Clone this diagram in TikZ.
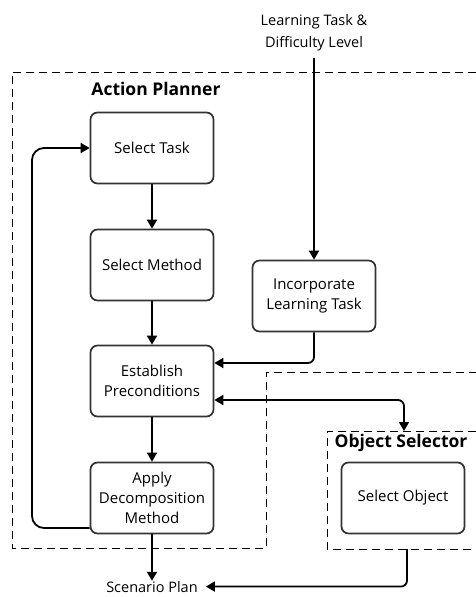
\documentclass[tikz,border=0pt]{standalone}
\usepackage{fontspec}
\setmainfont{Open Sans}
\usetikzlibrary{arrows.meta}
\begin{document}
\begin{tikzpicture}[x=1pt,y=-1pt,
  box/.style={draw=black!80,line width=1.7pt,rounded corners=7pt,minimum width=123pt,minimum height=71pt,align=center,font=\fontsize{15}{20}\selectfont,inner sep=0pt},
  conn/.style={line width=1.8pt,-{Triangle[length=9pt,width=10pt]}},
  dconn/.style={line width=1.8pt,{Triangle[length=9pt,width=10pt]}-{Triangle[length=9pt,width=10pt]}},
  frame/.style={line width=0.9pt,dash pattern=on 8pt off 5pt},
  lbl/.style={font=\fontsize{14.5}{22}\selectfont,align=center,inner sep=0pt},
  title/.style={font=\bfseries\fontsize{17.5}{20}\selectfont,inner sep=0pt}]
\useasboundingbox (0,0) rectangle (476,597);
\draw[frame] (476,72) -- (12,72) -- (12,548) -- (266,548) -- (266,372) -- (476,372);
\draw[frame] (476,431) -- (327,431) -- (327,549) -- (476,549);
\node[title,anchor=base] (ap) at (156,95) {Action Planner};
\node[title,anchor=base] (os) at (401,447) {Object Selector};
\node[lbl] (in) at (314,33) {Learning Task \&\\Difficulty Level};
\coordinate (inb) at (314,58);
\node[box] (st) at (152,148) {Select Task};
\node[box] (sm) at (152,265) {Select Method};
\node[box] (il) at (314,296) {Incorporate\\Learning Task};
\node[box] (ep) at (152,381) {Establish\\Preconditions};
\node[box] (ad) at (152,498) {Apply\\Decomposition\\Method};
\node[box] (so) at (403,498) {Select Object};
\node[lbl,anchor=base] (sp) at (152,592) {Scenario Plan};
\coordinate (ost) at (404,431);
\coordinate (osb) at (407,549);
\draw[conn] (inb) -- (il);
\draw[conn] (st) -- (sm);
\draw[conn] (sm) -- (ep);
\draw[conn] (ep) -- (ad);
\draw[conn] (ad) -- (sp);
\draw[conn,rounded corners=6pt] (il.south) |- ([yshift=18pt]ep.east);
\draw[dconn,rounded corners=6pt] ([yshift=-19pt]ep.east) -| (ost);
\draw[conn,rounded corners=12pt] ([yshift=-30pt]ad.west) -| (32,148) -- (st.west);
\draw[conn,rounded corners=6pt] (osb) |- ([xshift=8pt]sp.east);
\end{tikzpicture}
\end{document}
